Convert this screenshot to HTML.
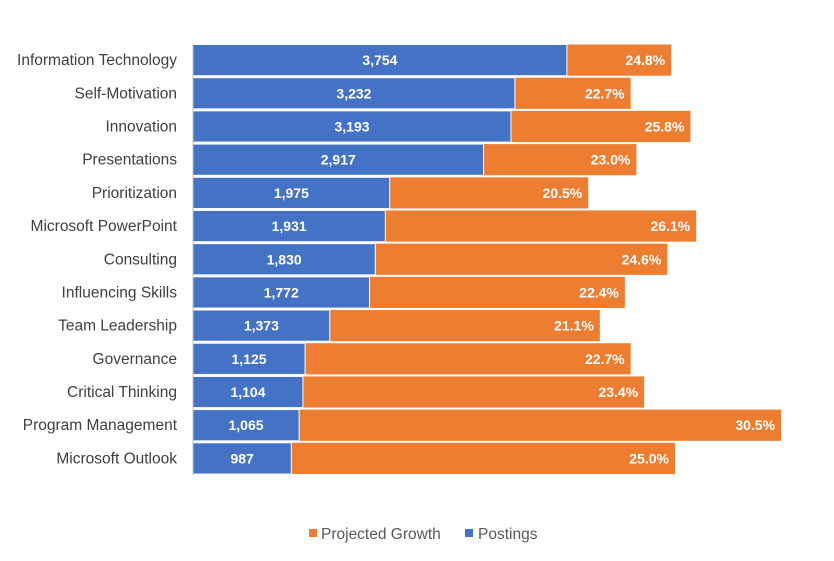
<!DOCTYPE html>
<html><head><meta charset="utf-8"><style>
body{margin:0;background:#fff;}
svg{display:block;font-family:"Liberation Sans",Arial,sans-serif;}
</style></head><body>
<svg id="chart" width="834" height="561">
<g id="plot"></g>
<g>
<rect x="309" y="529" width="8" height="8" fill="#ED7D31"/>
<text x="321" y="539" font-size="15.5" fill="#595959">Projected Growth</text>
<rect x="465" y="529" width="8" height="8" fill="#4472C4"/>
<text x="478" y="539" font-size="15.5" fill="#595959">Postings</text>
</g>
</svg>
<script>
const categories=["Information Technology","Self-Motivation","Innovation","Presentations","Prioritization","Microsoft PowerPoint","Consulting","Influencing Skills","Team Leadership","Governance","Critical Thinking","Program Management","Microsoft Outlook"];
const postings=[3754,3232,3193,2917,1975,1931,1830,1772,1373,1125,1104,1065,987];
const growth=[24.8,22.7,25.8,23.0,20.5,26.1,24.6,22.4,21.1,22.7,23.4,30.5,25.0];

const x0=193, plotTop=43.5, plotBottom=475;
const band=(plotBottom-plotTop)/categories.length, barH=band*0.94;
const xPost=v=>x0+v*0.0996;
const xGrowth=v=>x0+v*19.28;
const yBand=i=>plotTop+i*band;
const ns="http://www.w3.org/2000/svg";
const g=document.getElementById('plot');
function mk(tag,attrs){const e=document.createElementNS(ns,tag);for(const k in attrs)e.setAttribute(k,attrs[k]);return e;}
categories.forEach((c,i)=>{
  const y=yBand(i)+(band-barH)/2, cy=yBand(i)+band/2;
  const o=mk('rect',{x:x0,y:y,width:xGrowth(growth[i])-x0,height:barH,fill:'#ED7D31'});
  
  
  g.appendChild(o);
  const b=mk('rect',{x:x0,y:y,width:xPost(postings[i])-x0,height:barH,fill:'#4472C4',stroke:'#fff','stroke-width':1});
  
  
  g.appendChild(b);
  const t1=mk('text',{x:(x0+xPost(postings[i]))/2,y:cy+5,'text-anchor':'middle','font-size':14,'font-weight':'bold',fill:'#fff'});
  t1.textContent=postings[i].toLocaleString('en-US');
  
  
  g.appendChild(t1);
  const t2=mk('text',{x:xGrowth(growth[i])-6,y:cy+5,'text-anchor':'end','font-size':14,'font-weight':'bold',fill:'#fff'});
  t2.textContent=growth[i].toFixed(1)+'%';
  
  
  g.appendChild(t2);
  const l=mk('text',{x:177,y:cy+5,'text-anchor':'end','font-size':15.5,fill:'#404040'});
  l.textContent=c;
  
  
  g.appendChild(l);
});
const ax=mk('line',{x1:x0,y1:plotTop,x2:x0,y2:plotBottom,stroke:'#BFBFBF','stroke-width':1});


g.appendChild(ax);
</script>
</body></html>
